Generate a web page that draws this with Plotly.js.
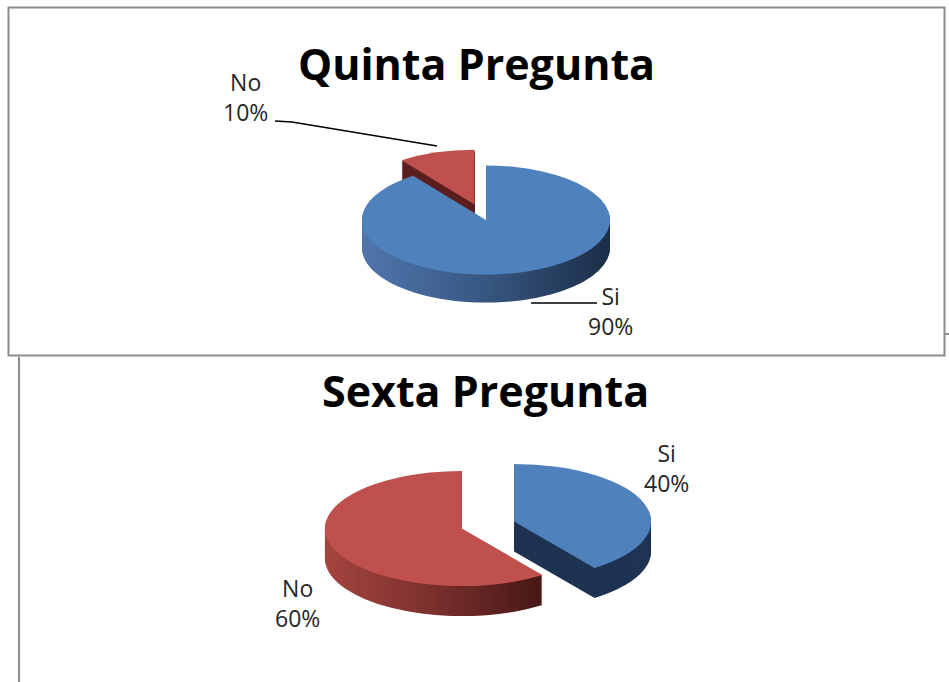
<!DOCTYPE html>
<html><head><meta charset="utf-8">
<script src="https://cdn.plot.ly/plotly-3.0.1.min.js"></script>
<style>html,body{margin:0;padding:0;background:#fff}#chart{width:949px;height:682px}</style>
</head><body><div id="chart"></div>
<script>
// ---- data ----
const q5Labels = ['Si', 'No'];
const q5Values = [90, 10];
const q6Labels = ['Si', 'No'];
const q6Values = [40, 60];
const chartTitles = ['Quinta Pregunta', 'Sexta Pregunta'];

// ---- layout helpers / styles ----
const W = 949, H = 682;
const px = x => x / W, py = y => 1 - y / H;

const charts = [
  {labels: q5Labels, values: q5Values, cx: 486, cy: 220, r: 124, k: 0.44, depth: 28,
   pull: [0, 0.3], face: ['#4f81bd', '#c0504d'], side: ['#38597f', '#5a1f1e'],
   sideFill: ['url(#gBlueSide)', null]},
  {labels: q6Labels, values: q6Values, cx: 488, cy: 525, r: 137, k: 0.42, depth: 30,
   pull: [0.2, 0.2], face: ['#4f81bd', '#c0504d'], side: ['#1f3452', '#7e302d'],
   sideFill: [null, 'url(#gRedSide)']}
];

const traces = [];
const xforms = [];
charts.forEach(c => {
  const half = c.r * (1 + Math.max(...c.pull));
  const ny = Math.min(Math.max(c.cy, half), H - half);
  const dom = {x: [px(c.cx - half), px(c.cx + half)], y: [py(ny + half), py(ny - half)]};
  const offs = [];
  for (let o = c.depth; o > 0; o -= 1) offs.push(o);
  offs.push(0);
  offs.forEach(o => {
    traces.push({
      type: 'pie', labels: c.labels, values: c.values, sort: false,
      direction: 'clockwise', rotation: 0, pull: c.pull, domain: dom,
      textinfo: 'none', hoverinfo: 'label+percent', showlegend: false,
      marker: {colors: o === 0 ? c.face : c.side, line: {width: 0}}
    });
    xforms.push({target: c.cy + o, k: c.k, fills: o === 0 ? null : c.sideFill});
  });
});

const labelFont = {family: '"Open Sans", Calibri, sans-serif', size: 23, color: '#262626'};
const titleFont = {family: '"Open Sans", Calibri, sans-serif', size: 43, color: '#000', weight: 'bold'};

const annotations = [
  {text: chartTitles[0], x: px(477), y: py(63), font: titleFont},
  {text: chartTitles[1], x: px(486), y: py(390), font: titleFont},
  {text: q5Labels[1] + '<br>' + q5Values[1] + '%', x: px(245), y: py(97), font: labelFont},
  {text: q5Labels[0] + '<br>' + q5Values[0] + '%', x: px(610), y: py(311), font: labelFont},
  {text: q6Labels[0] + '<br>' + q6Values[0] + '%', x: px(666), y: py(468), font: labelFont},
  {text: q6Labels[1] + '<br>' + q6Values[1] + '%', x: px(297), y: py(603), font: labelFont}
].map(a => Object.assign({xref: 'paper', yref: 'paper', showarrow: false,
  xanchor: 'center', yanchor: 'middle'}, a));

const frame = {color: '#8c8c8c', width: 2};
const P = (x, y) => px(x) + ',' + py(y);
const shapes = [
  {type: 'rect', x0: px(8.5), x1: px(944.5), y0: py(355.5), y1: py(7.5), line: frame},
  {type: 'line', x0: px(19), x1: px(19), y0: py(357), y1: py(682), line: frame},
  {type: 'line', x0: px(945), x1: px(949), y0: py(334), y1: py(334), line: frame},
  {type: 'path', path: 'M' + P(275, 121) + 'L' + P(292, 122) + 'L' + P(437, 146),
   line: {color: '#000', width: 1.5}},
  {type: 'path', path: 'M' + P(531, 303) + 'L' + P(597, 303),
   line: {color: '#000', width: 1.5}}
].map(s => Object.assign({xref: 'paper', yref: 'paper'}, s));

const layout = {
  width: W, height: H, margin: {l: 0, r: 0, t: 0, b: 0},
  paper_bgcolor: '#fff', showlegend: false,
  font: {family: '"Open Sans", sans-serif'},
  annotations: annotations, shapes: shapes
};

function addGradient(svg, id, stops) {
  const NS = 'http://www.w3.org/2000/svg';
  let defs = svg.querySelector('defs');
  if (!defs) { defs = document.createElementNS(NS, 'defs'); svg.insertBefore(defs, svg.firstChild); }
  const g = document.createElementNS(NS, 'linearGradient');
  g.setAttribute('id', id);
  g.setAttribute('x1', '0'); g.setAttribute('x2', '1');
  g.setAttribute('y1', '0'); g.setAttribute('y2', '0');
  stops.forEach(s => {
    const st = document.createElementNS(NS, 'stop');
    st.setAttribute('offset', s[0]);
    st.setAttribute('stop-color', s[1]);
    g.appendChild(st);
  });
  defs.appendChild(g);
}

const gd = document.getElementById('chart');
Plotly.newPlot(gd, traces, layout, {displayModeBar: false, staticPlot: true}).then(() => {
  const svg = gd.querySelector('svg.main-svg');
  addGradient(svg, 'gBlueSide', [[0, '#5076ad'], [0.45, '#395a86'], [1, '#1c2e48']]);
  addGradient(svg, 'gRedSide', [[0, '#a5443f'], [0.5, '#7a302d'], [1, '#461716']]);
  const groups = gd.querySelectorAll('.pielayer g.trace');
  groups.forEach((g, i) => {
    const cy = gd.calcdata[i][0].cy;
    const t = xforms[i];
    g.setAttribute('transform', 'translate(0,' + t.target + ') scale(1,' + t.k + ') translate(0,' + (-cy) + ')');
    if (t.fills) {
      g.querySelectorAll('g.slice').forEach((s, j) => {
        const p = s.querySelector('path.surface');
        if (p && t.fills[j]) p.style.fill = t.fills[j];
      });
    }
  });
});
</script>
</body></html>
